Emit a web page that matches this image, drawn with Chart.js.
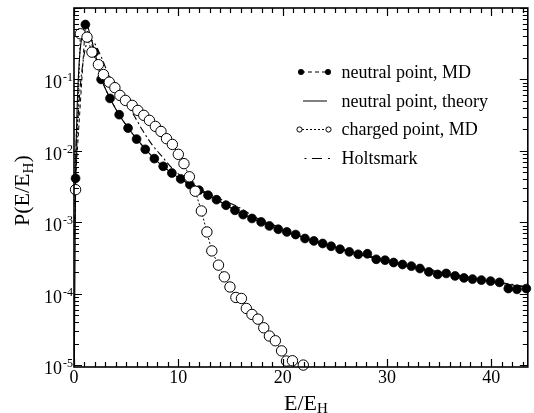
<!DOCTYPE html>
<html><head><meta charset="utf-8">
<script src="https://cdn.jsdelivr.net/npm/chart.js@4/dist/chart.umd.min.js"></script>
<style>html,body{margin:0;padding:0;background:#fff;}#wrap{width:534px;height:413px;}</style>
</head><body><div id="wrap"><canvas id="c" width="534" height="413"></canvas></div>
<script>
// ---------------- data ----------------
const neutralMD_x = [0.15,1.09,1.95,2.60,3.45,4.33,5.18,6.00,6.83,7.70,8.55,9.38,10.23,11.11,11.98,12.85,13.66,14.57,15.43,16.21,17.06,17.94,18.73,19.58,20.40,21.25,22.14,22.99,23.84,24.65,25.50,26.39,27.24,28.12,28.97,29.82,30.64,31.49,32.34,33.16,34.01,34.86,35.68,36.53,37.38,38.20,39.05,39.93,40.78,41.63,42.46,43.36];
const neutralMD_y = [4.12e-3,0.587,0.240,0.100,0.0542,0.0321,0.0208,0.0146,0.0105,0.00778,0.00607,0.00489,0.00404,0.00337,0.00281,0.00239,0.00207,0.00173,0.00147,0.00128,0.00113,0.00101,8.87e-4,7.98e-4,7.31e-4,6.73e-4,5.92e-4,5.47e-4,5.04e-4,4.61e-4,4.19e-4,3.85e-4,3.56e-4,3.62e-4,3.03e-4,2.94e-4,2.73e-4,2.56e-4,2.43e-4,2.25e-4,2.02e-4,1.86e-4,1.92e-4,1.77e-4,1.66e-4,1.60e-4,1.55e-4,1.50e-4,1.44e-4,1.18e-4,1.15e-4,1.18e-4];

const theory_x = [0.03,0.15,0.3,0.5,0.75,1.0,1.2,1.5,2.0,2.6,3.4,4.3,5.2,6,7,8,9,10,11,12,13,14,15,16,17,18,20,22,24,26,28,30,32,34,36,38,40,42,43.5];
const theory_y = [1e-5,3.16e-3,0.0398,0.178,0.398,0.562,0.589,0.447,0.240,0.105,0.0562,0.0324,0.0209,0.0148,0.0100,0.00708,0.00537,0.00422,0.00343,0.00282,0.00234,0.00195,0.00160,0.00133,0.00115,0.00100,7.67e-4,6.10e-4,4.95e-4,4.03e-4,3.35e-4,2.85e-4,2.45e-4,2.14e-4,1.86e-4,1.64e-4,1.46e-4,1.32e-4,1.22e-4];

const chargedMD_x = [0.15,0.61,1.25,1.72,2.34,2.82,3.38,3.92,4.40,4.93,5.58,6.12,6.69,7.23,7.80,8.34,8.87,9.43,10.00,10.54,11.06,11.62,12.21,12.74,13.21,13.85,14.41,14.95,15.52,16.05,16.52,17.06,17.63,18.19,18.73,19.30,19.90,20.37,20.94,21.98];
const chargedMD_y = [2.86e-3,0.436,0.391,0.241,0.161,0.117,0.0916,0.0766,0.0597,0.0508,0.0433,0.0368,0.0314,0.0267,0.0220,0.0187,0.0148,0.0123,0.00893,0.00662,0.00433,0.00272,0.00144,7.31e-4,3.97e-4,2.51e-4,1.72e-4,1.24e-4,8.85e-5,8.57e-5,6.21e-5,5.12e-5,4.40e-5,3.33e-5,2.55e-5,2.19e-5,1.58e-5,1.14e-5,1.15e-5,1.0e-5];

const holts_x = [0.05,0.2,0.4,0.6,0.9,1.2,1.5,1.9,2.67,3.14,3.61,4.6,5.65,6.57,7.54,8.49,9.43,10.38,11.32,12.27,13.21,14.16,15.74,16.7,17.63,19.52,22,24,26,28,30,32,34,36,38,40,42,43.5];
const holts_y = [6.31e-4,0.0126,0.0316,0.0794,0.191,0.316,0.355,0.331,0.197,0.134,0.0968,0.0562,0.0331,0.0194,0.0119,0.00818,0.00564,0.00431,0.00348,0.00281,0.00239,0.00207,0.00164,0.00135,0.00112,8.71e-4,6.17e-4,5.01e-4,4.07e-4,3.43e-4,2.92e-4,2.51e-4,2.19e-4,1.91e-4,1.68e-4,1.50e-4,1.35e-4,1.24e-4];

const seriesNames = ['neutral point, MD','neutral point, theory','charged point, MD','Holtsmark'];
const xTickValues = [0,10,20,30,40];
const xTickLabels = ['0','10','20','30','40'];
const yTickPowers = [-1,-2,-3,-4,-5];
const xTitle = ['E/E','H'];
const yTitle = ['P(E/E','H',')'];

// ---------------- helpers ----------------
const pts = (xs, ys) => xs.map((x, i) => ({x: x, y: ys[i]}));
const SERIF = '"Liberation Serif","Times New Roman",serif';

const decorPlugin = {
  id: 'decor',
  afterDraw(chart) {
    const ctx = chart.ctx;
    const a = chart.chartArea;
    const xs = chart.scales.x, ys = chart.scales.y;
    ctx.save();
    ctx.strokeStyle = '#000';
    ctx.fillStyle = '#000';
    // frame
    ctx.lineWidth = 1.6;
    ctx.strokeRect(a.left, a.top, a.right - a.left, a.bottom - a.top);
    ctx.lineWidth = 1.2;
    // x ticks
    for (let v = 0; v <= 43; v++) {
      const px = Math.round(xs.getPixelForValue(v)) + 0.5;
      const len = (v % 10 === 0) ? 8 : 5;
      ctx.beginPath();
      ctx.moveTo(px, a.bottom); ctx.lineTo(px, a.bottom - len);
      ctx.moveTo(px, a.top); ctx.lineTo(px, a.top + len);
      ctx.stroke();
    }
    // y ticks
    for (let e = -6; e <= 0; e++) {
      for (let m = 1; m <= 9; m++) {
        const v = m * Math.pow(10, e);
        if (v < ys.min || v > ys.max * 1.0001) continue;
        const py = Math.round(ys.getPixelForValue(v)) + 0.5;
        const len = (m === 1) ? 8 : 5;
        ctx.beginPath();
        ctx.moveTo(a.left, py); ctx.lineTo(a.left + len, py);
        ctx.moveTo(a.right, py); ctx.lineTo(a.right - len, py);
        ctx.stroke();
      }
    }
    // x tick labels
    ctx.font = '18px ' + SERIF;
    ctx.textAlign = 'center';
    ctx.textBaseline = 'alphabetic';
    xTickValues.forEach((v, i) => {
      ctx.fillText(xTickLabels[i], xs.getPixelForValue(v), a.bottom + 16);
    });
    // y tick labels with superscript
    yTickPowers.forEach(p => {
      const py = ys.getPixelForValue(Math.pow(10, p));
      ctx.font = '18px ' + SERIF;
      ctx.textAlign = 'right';
      ctx.fillText('10', a.left - 12, py + 9);
      ctx.font = '12px ' + SERIF;
      ctx.textAlign = 'left';
      ctx.fillText('-' + Math.abs(p), a.left - 11, py + 2);
    });
    // x title
    ctx.textAlign = 'left';
    ctx.font = '22px ' + SERIF;
    const xt0 = 284;
    ctx.fillText(xTitle[0], xt0, 410);
    const w0 = ctx.measureText(xTitle[0]).width;
    ctx.font = '15px ' + SERIF;
    ctx.fillText(xTitle[1], xt0 + w0, 413);
    // y title (rotated)
    ctx.save();
    ctx.translate(29, 226);
    ctx.rotate(-Math.PI / 2);
    ctx.font = '22px ' + SERIF;
    ctx.fillText(yTitle[0], 0, 0);
    let w = ctx.measureText(yTitle[0]).width;
    ctx.font = '15px ' + SERIF;
    ctx.fillText(yTitle[1], w, 4);
    w += ctx.measureText(yTitle[1]).width;
    ctx.font = '22px ' + SERIF;
    ctx.fillText(yTitle[2], w, 0);
    ctx.restore();

    // legend
    const rows = [77.5, 106.5, 135, 164];
    ctx.font = '18px ' + SERIF;
    ctx.textAlign = 'left';
    seriesNames.forEach((n, i) => ctx.fillText(n, 341.5, rows[i]));
    ctx.lineWidth = 1;
    // row 1: filled markers, dashed
    let ly = rows[0] - 5.5;
    ctx.setLineDash([4, 3]);
    ctx.beginPath(); ctx.moveTo(301, ly); ctx.lineTo(328, ly); ctx.stroke();
    ctx.setLineDash([]);
    [301, 328].forEach(x => { ctx.beginPath(); ctx.arc(x, ly, 3, 0, Math.PI * 2); ctx.fill(); });
    // row 2: solid
    ly = rows[1] - 5.5;
    ctx.beginPath(); ctx.moveTo(303, ly); ctx.lineTo(327, ly); ctx.stroke();
    // row 3: open markers, dotted
    ly = rows[2] - 5.5;
    ctx.setLineDash([2, 2]);
    ctx.beginPath(); ctx.moveTo(302, ly); ctx.lineTo(326, ly); ctx.stroke();
    ctx.setLineDash([]);
    [299.5, 328.5].forEach(x => {
      ctx.beginPath(); ctx.arc(x, ly, 2.6, 0, Math.PI * 2);
      ctx.fillStyle = '#fff'; ctx.fill(); ctx.stroke(); ctx.fillStyle = '#000';
    });
    // row 4: dash-dot
    ly = rows[3] - 5.5;
    ctx.beginPath();
    ctx.moveTo(304.5, ly); ctx.lineTo(306.5, ly);
    ctx.moveTo(312, ly); ctx.lineTo(322, ly);
    ctx.moveTo(328, ly); ctx.lineTo(330, ly);
    ctx.stroke();
    ctx.restore();
  }
};

new Chart(document.getElementById('c'), {
  type: 'scatter',
  data: {
    datasets: [
      {
        label: seriesNames[0], data: pts(neutralMD_x, neutralMD_y), showLine: true,
        borderColor: '#000', borderWidth: 1, borderDash: [4, 3],
        pointRadius: 4.4, pointBackgroundColor: '#000', pointBorderColor: '#000', pointBorderWidth: 0.8,
        order: 1, clip: false
      },
      {
        label: seriesNames[1], data: pts(theory_x, theory_y), showLine: true,
        borderColor: '#000', borderWidth: 1.1, pointRadius: 0, cubicInterpolationMode: 'monotone',
        order: 2
      },
      {
        label: seriesNames[2], data: pts(chargedMD_x, chargedMD_y), showLine: true,
        borderColor: '#000', borderWidth: 1, borderDash: [2, 2],
        pointRadius: 5.2, pointBackgroundColor: '#fff', pointBorderColor: '#000', pointBorderWidth: 1,
        order: 0, clip: false
      },
      {
        label: seriesNames[3], data: pts(holts_x, holts_y), showLine: true,
        borderColor: '#000', borderWidth: 1.1, borderDash: [7, 3, 2, 3], pointRadius: 0,
        cubicInterpolationMode: 'monotone', order: 3
      }
    ]
  },
  options: {
    responsive: false, animation: false, devicePixelRatio: 1,
    layout: {padding: {left: 74, right: 0.5, top: 8, bottom: 46}},
    plugins: {legend: {display: false}, tooltip: {enabled: false}},
    scales: {
      x: {type: 'linear', min: 0, max: 43.5, display: false},
      y: {type: 'logarithmic', min: 9.4e-6, max: 1, display: false}
    }
  },
  plugins: [decorPlugin]
});
</script></body></html>
